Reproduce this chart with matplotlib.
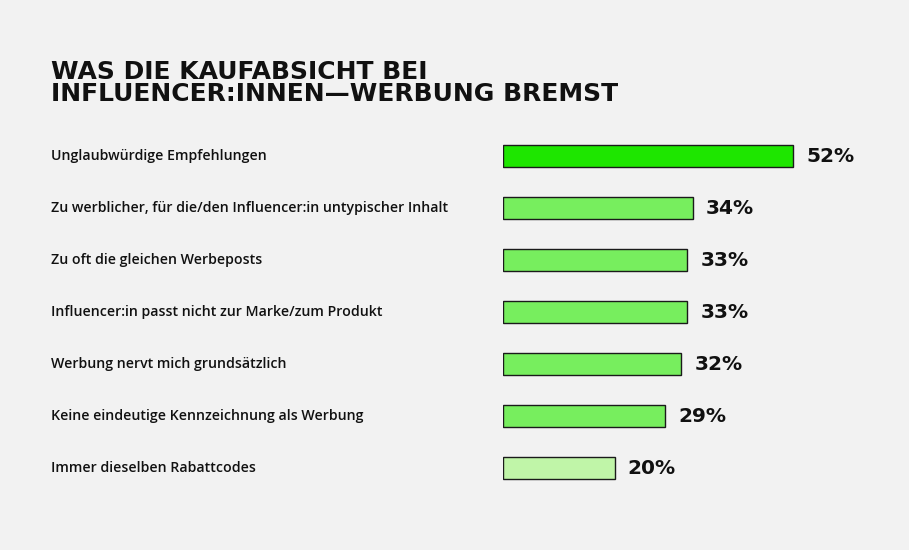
import matplotlib
matplotlib.use("Agg")
import matplotlib.pyplot as plt
import matplotlib.transforms as mtransforms

categories = [
    "Unglaubwürdige Empfehlungen",
    "Zu werblicher, für die/den Influencer:in untypischer Inhalt",
    "Zu oft die gleichen Werbeposts",
    "Influencer:in passt nicht zur Marke/zum Produkt",
    "Werbung nervt mich grundsätzlich",
    "Keine eindeutige Kennzeichnung als Werbung",
    "Immer dieselben Rabattcodes",
]
values = [52, 34, 33, 33, 32, 29, 20]
value_labels = ["52%", "34%", "33%", "33%", "32%", "29%", "20%"]
colors = ["#1ee600", "#77ee5e", "#77ee5e", "#77ee5e", "#77ee5e", "#77ee5e", "#c0f5a8"]
title = "WAS DIE KAUFABSICHT BEI\nINFLUENCER:INNEN—WERBUNG BREMST"

W, H = 909, 550
bg = "#f2f2f2"
fig = plt.figure(figsize=(W / 100, H / 100), dpi=100, facecolor=bg)

px_per_unit = 290 / 52
xmax = 60
ax_left = 503 / W
ax_w = xmax * px_per_unit / W
ax_top_px, ax_bot_px = 130, 494
ax = fig.add_axes([ax_left, 1 - ax_bot_px / H, ax_w, (ax_bot_px - ax_top_px) / H])
ax.set_facecolor("none")
ax.set_xlim(0, xmax)
n = len(categories)
ax.set_ylim(n - 0.5, -0.5)
ypos = list(range(n))
ax.barh(ypos, values, height=0.42, color=colors, edgecolor="#1a1a1a", linewidth=1.0)
for s in ax.spines.values():
    s.set_visible(False)
ax.set_xticks([])
ax.set_yticks([])

for y, v, lab in zip(ypos, values, value_labels):
    ax.annotate(lab, (v, y), xytext=(9.5, 0), textcoords="offset points",
                ha="left", va="center", fontsize=14.5, fontweight="bold",
                family="DejaVu Sans", color="#111111")

trans = mtransforms.blended_transform_factory(fig.transFigure, ax.transData)
for y, c in zip(ypos, categories):
    ax.text(51 / W, y, c, transform=trans, ha="left", va="center",
            fontsize=10.2, fontweight="semibold", family="Open Sans", color="#111111")

fig.text(51 / W, 1 - 60 / H, title, ha="left", va="top", fontsize=18,
         fontweight="bold", family="DejaVu Sans", color="#111111", linespacing=0.9)

fig.savefig("out.png", dpi=100, facecolor=bg)
